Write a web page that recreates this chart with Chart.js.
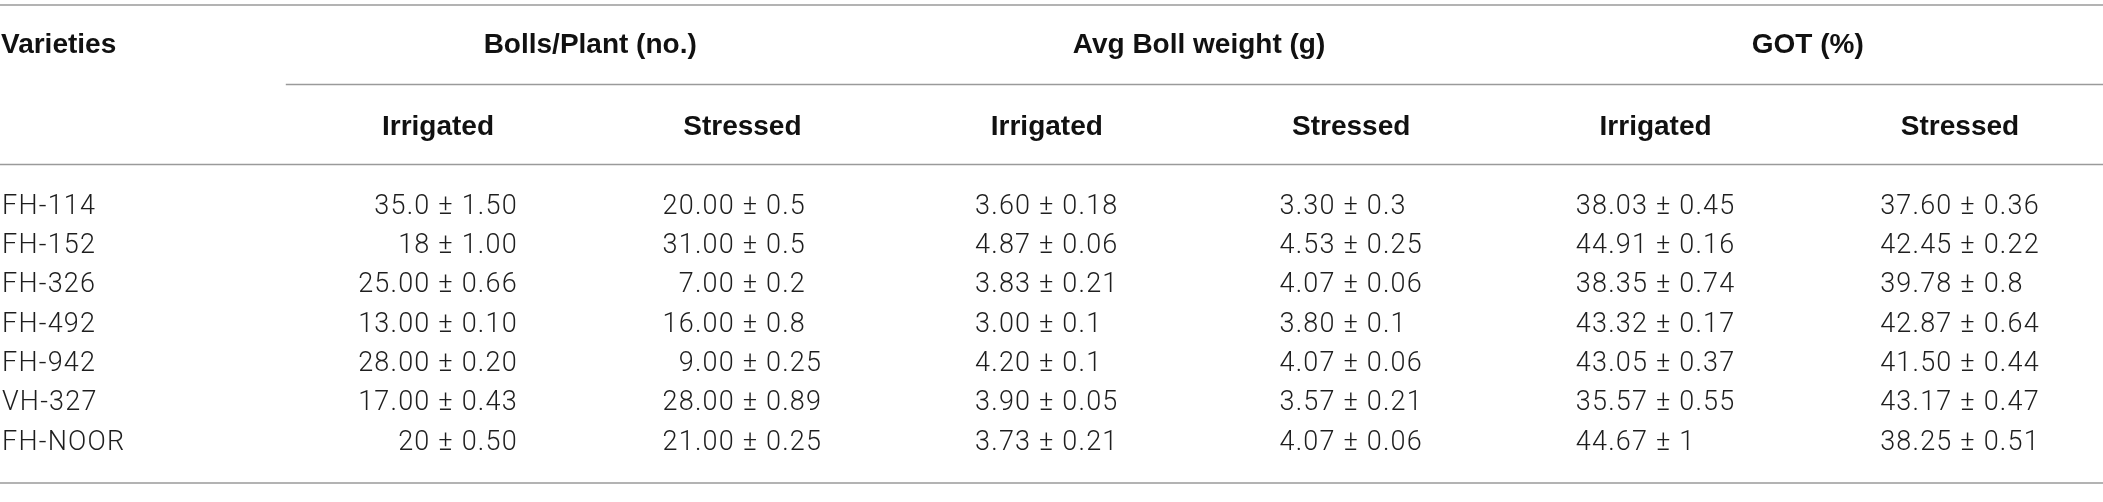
<!DOCTYPE html>
<html>
<head>
<meta charset="utf-8">
<script src="https://cdn.jsdelivr.net/npm/chart.js@4.4.1/dist/chart.umd.min.js"></script>
<style>
  html, body { margin: 0; padding: 0; background: #fff; }
  #wrap { width: 2103px; height: 502px; position: relative; }
</style>
</head>
<body>
<div id="wrap"><canvas id="tabla"></canvas></div>
<script>
// datos de la tabla (media y desviación, como texto para conservar los decimales)
const varieties = ['FH-114', 'FH-152', 'FH-326', 'FH-492', 'FH-942', 'VH-327', 'FH-NOOR'];
const groupHeads = ['Bolls/Plant (no.)', 'Avg Boll weight (g)', 'GOT (%)'];
const subHeads = ['Irrigated', 'Stressed'];

const bollsIrrMean = ['35.0', '18', '25.00', '13.00', '28.00', '17.00', '20'];
const bollsIrrSd   = ['1.50', '1.00', '0.66', '0.10', '0.20', '0.43', '0.50'];
const bollsStrMean = ['20.00', '31.00', '7.00', '16.00', '9.00', '28.00', '21.00'];
const bollsStrSd   = ['0.5', '0.5', '0.2', '0.8', '0.25', '0.89', '0.25'];
const weightIrrMean = ['3.60', '4.87', '3.83', '3.00', '4.20', '3.90', '3.73'];
const weightIrrSd   = ['0.18', '0.06', '0.21', '0.1', '0.1', '0.05', '0.21'];
const weightStrMean = ['3.30', '4.53', '4.07', '3.80', '4.07', '3.57', '4.07'];
const weightStrSd   = ['0.3', '0.25', '0.06', '0.1', '0.06', '0.21', '0.06'];
const gotIrrMean = ['38.03', '44.91', '38.35', '43.32', '43.05', '35.57', '44.67'];
const gotIrrSd   = ['0.45', '0.16', '0.74', '0.17', '0.37', '0.55', '1'];
const gotStrMean = ['37.60', '42.45', '39.78', '42.87', '41.50', '43.17', '38.25'];
const gotStrSd   = ['0.36', '0.22', '0.8', '0.64', '0.44', '0.47', '0.51'];

// columnas: [media, desviación]
const columnData = [
  [bollsIrrMean, bollsIrrSd], [bollsStrMean, bollsStrSd],
  [weightIrrMean, weightIrrSd], [weightStrMean, weightStrSd],
  [gotIrrMean, gotIrrSd], [gotStrMean, gotStrSd]
];
const columnKeys = groupHeads.flatMap(g => subHeads.map(s => g + ' / ' + s));
const columnAlign = ['right', 'pm', 'pm', 'pm', 'pm', 'pm']; // 'pm' = alineado en ±

// estilo
const FONT_BODY = '300 27px Roboto, "Liberation Sans", sans-serif';
const FONT_HEAD = 'bold 28px "Liberation Sans", Arial, sans-serif';
const BODY_SPACING = '1.2px';
const RULE_COLOR = '#9a9a9a';

// desplazamientos verticales de la cabecera respecto a la primera fila
const hdr = { topRule: -202, groupText: -162, groupRule: -122.5, subText: -80, headRule: -42.5, bottomRule: 40 };

function hRule(ctx, x1, x2, y) {
  ctx.save();
  ctx.strokeStyle = RULE_COLOR;
  ctx.lineWidth = 1.6;
  ctx.beginPath();
  ctx.moveTo(x1, y);
  ctx.lineTo(x2, y);
  ctx.stroke();
  ctx.restore();
}

const tablePlugin = {
  id: 'tablePlugin',
  afterDatasetsDraw(chart) {
    const ctx = chart.ctx;
    const xs = chart.scales.x, ys = chart.scales.y;
    const W = chart.width;
    const y0 = ys.getPixelForValue(varieties[0]);
    const yN = ys.getPixelForValue(varieties[varieties.length - 1]);
    const half = (xs.getPixelForValue(columnKeys[1]) - xs.getPixelForValue(columnKeys[0])) / 2;

    // reglas
    hRule(ctx, 0, W, y0 + hdr.topRule);
    hRule(ctx, xs.getPixelForValue(columnKeys[0]) - half, W, y0 + hdr.groupRule);
    hRule(ctx, 0, W, y0 + hdr.headRule);
    hRule(ctx, 0, W, yN + hdr.bottomRule);

    // cabeceras
    ctx.save();
    ctx.fillStyle = '#111';
    ctx.font = FONT_HEAD;
    ctx.textBaseline = 'middle';
    ctx.textAlign = 'left';
    ctx.fillText('Varieties', 1, y0 + hdr.groupText);
    ctx.textAlign = 'center';
    groupHeads.forEach((g, i) => {
      ctx.fillText(g, xs.getPixelForValue(i * 2 + 0.5), y0 + hdr.groupText);
    });
    columnKeys.forEach((k, c) => {
      ctx.fillText(subHeads[c % 2], xs.getPixelForValue(k), y0 + hdr.subText);
    });
    ctx.restore();

    // celdas
    ctx.save();
    ctx.fillStyle = '#1e1e1e';
    ctx.font = FONT_BODY;
    ctx.letterSpacing = BODY_SPACING;
    ctx.textBaseline = 'middle';
    ctx.textAlign = 'left';
    varieties.forEach(v => ctx.fillText(v, 2, ys.getPixelForValue(v)));

    chart.data.datasets.forEach((ds, c) => {
      const meta = chart.getDatasetMeta(c);
      const [means, sds] = columnData[c];
      const texts = means.map((m, i) => m + ' ± ' + sds[i]);
      const widths = texts.map(t => ctx.measureText(t).width);
      const wMax = Math.max(...widths);
      const iMax = widths.indexOf(wMax);
      meta.data.forEach((pt, i) => {
        const cx = pt.x;
        if (columnAlign[c] === 'right') {
          ctx.fillText(texts[i], cx + wMax / 2 - widths[i], pt.y);
        } else {
          const anchor = cx - wMax / 2 + ctx.measureText(means[iMax] + ' ').width;
          ctx.fillText(texts[i], anchor - ctx.measureText(means[i] + ' ').width, pt.y);
        }
      });
    });
    ctx.restore();
  }
};

const tabla = new Chart(document.getElementById('tabla'), {
  type: 'scatter',
  data: {
    datasets: columnKeys.map(key => ({
      label: key,
      data: varieties.map(v => ({ x: key, y: v })),
      pointRadius: 0,
      pointHoverRadius: 0
    }))
  },
  options: {
    responsive: true,
    maintainAspectRatio: false,
    animation: false,
    devicePixelRatio: 1,
    layout: { padding: { left: 438, right: 143, top: 207, bottom: 59 } },
    scales: {
      x: { type: 'category', labels: columnKeys, offset: false, display: false },
      y: { type: 'category', labels: varieties, offset: false, display: false }
    },
    plugins: {
      legend: { display: false },
      tooltip: { enabled: false }
    },
    events: []
  },
  plugins: [tablePlugin]
});
</script>
</body>
</html>
